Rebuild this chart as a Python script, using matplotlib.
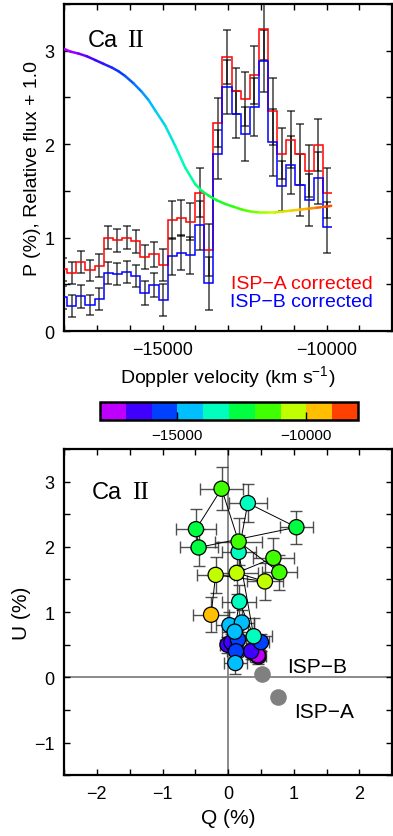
import matplotlib

matplotlib.use("Agg")
import matplotlib.pyplot as plt
import numpy as np
from matplotlib.cm import ScalarMappable
from matplotlib.collections import LineCollection
from matplotlib.colors import BoundaryNorm, LinearSegmentedColormap, ListedColormap, Normalize
from matplotlib.ticker import MultipleLocator

plt.rcParams["font.family"] = ["Liberation Sans", "DejaVu Sans"]
plt.rcParams["mathtext.default"] = "regular"

# velocity bin centres (km/s)
VEL = [-18044, -17766, -17487, -17209, -16931, -16652, -16374, -16096, -15818, -15539,
       -15261, -14983, -14705, -14426, -14148, -13870, -13591, -13313, -13035, -12757,
       -12478, -12200, -11922, -11644, -11365, -11087, -10809, -10531, -10252, -9974]
# polarization degree (%) after ISP subtraction
P_ISP_A = [0.66, 0.62, 0.74, 0.65, 0.70, 1.00, 0.97, 1.00, 0.96, 0.79,
           0.82, 0.71, 1.19, 1.21, 1.17, 1.48, 0.87, 2.23, 2.93, 2.57,
           2.48, 2.74, 3.23, 2.35, 1.90, 2.05, 1.89, 1.71, 1.99, 1.48]
P_ISP_B = [0.36, 0.27, 0.37, 0.28, 0.34, 0.62, 0.61, 0.63, 0.59, 0.41,
           0.49, 0.33, 0.80, 0.84, 0.81, 1.13, 0.51, 1.89, 2.61, 2.32,
           2.11, 2.40, 2.89, 2.02, 1.55, 1.78, 1.56, 1.40, 1.64, 1.11]
P_ERR = [0.12, 0.12, 0.12, 0.11, 0.12, 0.12, 0.12, 0.12, 0.12, 0.13,
         0.13, 0.17, 0.20, 0.19, 0.20, 0.26, 0.28, 0.26, 0.29, 0.25,
         0.29, 0.31, 0.33, 0.36, 0.27, 0.31, 0.33, 0.28, 0.28, 0.27]
# observed Stokes Q, U (%)
Q = [0.42, 0.46, 0.40, 0.45, 0.35, -0.01, 0.10, 0.05, 0.15, 0.12,
     0.50, 0.11, 0.02, 0.21, 0.10, 0.17, 0.39, 0.16, 0.30, 1.04,
     -0.45, -0.49, -0.10, 0.16, 0.78, 0.69, 0.13, 0.56, -0.19, -0.26]
U = [0.36, 0.32, 0.40, 0.34, 0.40, 0.50, 0.47, 0.54, 0.58, 0.40,
     0.54, 0.22, 0.80, 0.84, 0.70, 1.16, 0.63, 1.92, 2.67, 2.30,
     1.99, 2.27, 2.89, 2.08, 1.61, 1.83, 1.60, 1.47, 1.57, 0.96]

# relative flux + 1.0
FLUX_VEL = [-18000, -17800, -17560, -17300, -17050, -16800, -16545, -16340, -16140, -15880,
            -15630, -15420, -15220, -14920, -14610, -14310, -14000, -13800, -13600, -13350,
            -13090, -12830, -12580, -12330, -12070, -11820, -11560, -11310, -11060, -10800,
            -10550, -10300, -10040, -9860]
FLUX = [3.02, 2.99, 2.97, 2.94, 2.90, 2.86, 2.82, 2.78, 2.73, 2.65,
        2.56, 2.47, 2.36, 2.20, 1.98, 1.75, 1.57, 1.50, 1.45, 1.40,
        1.36, 1.33, 1.30, 1.28, 1.27, 1.27, 1.27, 1.28, 1.29, 1.30,
        1.31, 1.32, 1.33, 1.34]

ISP_LABELS = ["ISP\u2212A", "ISP\u2212B"]
ISP_Q = [0.76, 0.52]
ISP_U = [-0.30, 0.05]

CBAR_BOUNDS = [-18000, -17000, -16000, -15000, -14000, -13000, -12000, -11000, -10000, -9000, -8000]
BAND_COLORS = ["#bf00ff", "#4000ff", "#0040ff", "#00bfff", "#00ffbf",
               "#00ff40", "#40ff00", "#bfff00", "#ffbf00", "#ff4000"]

cmap = ListedColormap(BAND_COLORS)
cmap.set_under(BAND_COLORS[0])
cmap.set_over(BAND_COLORS[-1])
norm = BoundaryNorm(CBAR_BOUNDS, cmap.N)
# continuous version for the flux curve
smooth_cmap = LinearSegmentedColormap.from_list("band", BAND_COLORS)
smooth_norm = Normalize(FLUX_VEL[0], FLUX_VEL[-1])

TICK_FS = 13
LABEL_FS = 14


def style_axes(ax):
    for s in ax.spines.values():
        s.set_linewidth(1.6)
    ax.tick_params(which="both", direction="in", top=True, right=True,
                   length=4, width=1.0, labelsize=TICK_FS, pad=7)


fig = plt.figure(figsize=(3.93, 8.37), dpi=100)

# ---- top: P spectrum ----
ax = fig.add_axes([0.163, 0.6033, 0.835, 0.3907])
vel = np.array(VEL, dtype=float)
w = np.diff(vel).mean()
edges = np.concatenate([[vel[0] - w / 2], (vel[:-1] + vel[1:]) / 2, [vel[-1] + w / 2]])

ax.errorbar(vel, P_ISP_A, yerr=P_ERR, fmt="none", ecolor="black",
            elinewidth=1.1, capsize=3, capthick=1.1, alpha=0.75, zorder=2)
ax.errorbar(vel, P_ISP_B, yerr=P_ERR, fmt="none", ecolor="black",
            elinewidth=1.1, capsize=3, capthick=1.1, alpha=0.75, zorder=2)
ax.stairs(P_ISP_A, edges, baseline=None, color="#ff0000", lw=1.1, zorder=3)
ax.stairs(P_ISP_B, edges, baseline=None, color="#0000ff", lw=1.1, zorder=3)

fv = np.array(FLUX_VEL, dtype=float)
fl = np.array(FLUX)
pts = np.column_stack([fv, fl]).reshape(-1, 1, 2)
segs = np.concatenate([pts[:-1], pts[1:]], axis=1)
lc = LineCollection(segs, cmap=smooth_cmap, norm=smooth_norm, linewidth=1.8,
                    capstyle="round", zorder=4)
lc.set_array((fv[:-1] + fv[1:]) / 2)
ax.add_collection(lc)

ax.set_xlim(-18000, -8000)
ax.set_ylim(0, 3.5)
ax.xaxis.set_major_locator(MultipleLocator(5000))
ax.xaxis.set_minor_locator(MultipleLocator(1000))
ax.yaxis.set_major_locator(MultipleLocator(1))
ax.yaxis.set_minor_locator(MultipleLocator(0.5))
style_axes(ax)
ax.set_xlabel("Doppler velocity (km s$^{-1}$)", fontsize=LABEL_FS, labelpad=4)
ax.set_ylabel("P (%), Relative flux + 1.0", fontsize=LABEL_FS, labelpad=2)
ax.text(0.071, 0.89, "Ca", transform=ax.transAxes, fontsize=17, va="center")
ax.text(0.192, 0.89, "II", transform=ax.transAxes, fontsize=18, va="center",
        family="Liberation Serif")
ax.text(0.941, 0.144, "ISP\u2212A corrected", transform=ax.transAxes, color="#ff0000",
        fontsize=LABEL_FS, ha="right", va="center")
ax.text(0.941, 0.089, "ISP\u2212B corrected", transform=ax.transAxes, color="#0000ff",
        fontsize=LABEL_FS, ha="right", va="center")

# ---- colour bar ----
cax = fig.add_axes([0.2545, 0.497, 0.6565, 0.0215])
cb = fig.colorbar(ScalarMappable(norm=norm, cmap=cmap), cax=cax, orientation="horizontal",
                  ticks=[-15000, -10000])
cb.outline.set_linewidth(1.8)
cax.tick_params(direction="in", length=6, width=1.0, labelsize=11, pad=6)
cax.minorticks_off()

# ---- bottom: Q-U plane ----
bx = fig.add_axes([0.163, 0.0725, 0.835, 0.390])
bx.axhline(0, color="#777777", lw=1.2, zorder=1)
bx.axvline(0, color="#777777", lw=1.2, zorder=1)
bx.errorbar(Q, U, xerr=P_ERR, yerr=P_ERR, fmt="none", ecolor="#333333",
            elinewidth=1.0, capsize=4, capthick=1.0, alpha=0.85, zorder=2)
bx.plot(Q, U, color="black", lw=0.7, zorder=3)
bx.scatter(Q, U, c=VEL, cmap=cmap, norm=norm, s=120, edgecolors="black",
           linewidths=0.9, zorder=4)
bx.scatter(ISP_Q, ISP_U, s=120, color="#808080", zorder=4)
bx.text(0.905, 0.17, ISP_LABELS[1], fontsize=15, va="center")
bx.text(1.01, -0.53, ISP_LABELS[0], fontsize=15, va="center")
bx.text(0.085, 0.867, "Ca", transform=bx.transAxes, fontsize=17, va="center")
bx.text(0.206, 0.867, "II", transform=bx.transAxes, fontsize=18, va="center",
        family="Liberation Serif")

bx.set_xlim(-2.5, 2.5)
bx.set_ylim(-1.5, 3.5)
bx.xaxis.set_major_locator(MultipleLocator(1))
bx.xaxis.set_minor_locator(MultipleLocator(0.5))
bx.yaxis.set_major_locator(MultipleLocator(1))
bx.yaxis.set_minor_locator(MultipleLocator(0.5))
style_axes(bx)
bx.set_xlabel("Q (%)", fontsize=15, labelpad=4)
bx.set_ylabel("U (%)", fontsize=15, labelpad=2)

fig.savefig("out.png", dpi=100)
